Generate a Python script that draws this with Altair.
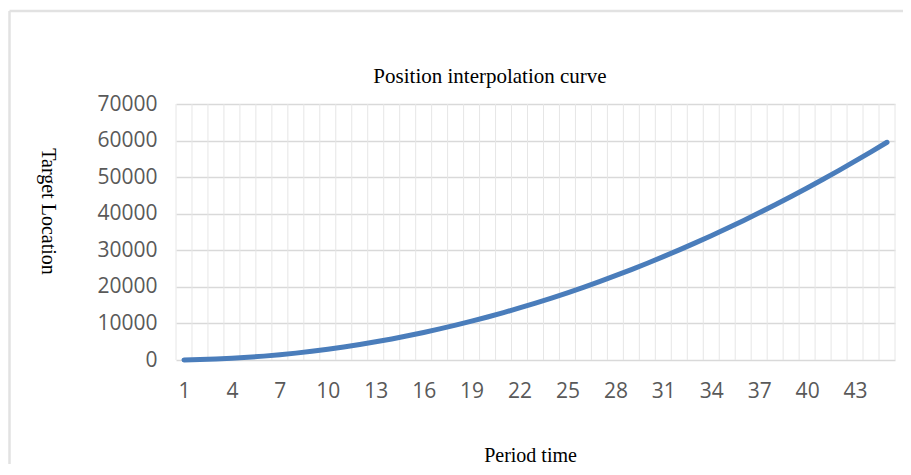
import altair as alt
import pandas as pd

# Period indices (categories) and target location values
periods = list(range(1, 46))
location = [30, 120, 265, 470, 735, 1060, 1440, 1880, 2380, 2940,
            3560, 4230, 4970, 5760, 6610, 7530, 8500, 9530, 10610, 11760,
            12970, 14230, 15550, 16930, 18380, 19870, 21430, 23050, 24730, 26460,
            28250, 30110, 32020, 33990, 36020, 38100, 40250, 42450, 44720, 47040,
            49420, 51860, 54360, 56920, 59540]
x_tick_labels = [1, 4, 7, 10, 13, 16, 19, 22, 25, 28, 31, 34, 37, 40, 43]
y_ticks = [0, 10000, 20000, 30000, 40000, 50000, 60000, 70000]
chart_title = "Position interpolation curve"

df = pd.DataFrame({"Period": periods, "Location": location})
edges = pd.DataFrame({"edge": [p - 0.5 for p in periods] + [periods[-1] + 0.5]})

W, H = 719, 256
xscale = alt.Scale(domain=[periods[0] - 0.5, periods[-1] + 0.5], nice=False, zero=False)
yscale = alt.Scale(domain=[0, 70000], nice=False)

label_font = "Open Sans"
serif = "Liberation Serif"

x_axis = alt.Axis(values=x_tick_labels, grid=False, domain=False, ticks=False,
                  labelFont=label_font, labelFontSize=21, labelColor="#595959",
                  labelPadding=20, labelFlush=False,
                  title="Period time", titleFont=serif, titleFontSize=20,
                  titleFontWeight="normal", titleColor="black",
                  titleX=354, titleY=101, titleAlign="center",
                  titleBaseline="alphabetic")
y_axis = alt.Axis(values=y_ticks, format="d", grid=True, gridColor="#d9d9d9",
                  gridWidth=1.5, domain=False, ticks=False,
                  labelFont=label_font, labelFontSize=21, labelColor="#595959",
                  labelPadding=19,
                  title="Target Location", titleFont=serif, titleFontSize=20,
                  titleFontWeight="normal", titleColor="black",
                  titleAngle=90, titleX=-129, titleY=107, titleAlign="center",
                  titleBaseline="middle")

# light chart-area border (top and left edges visible)
one = pd.DataFrame({"a": [0]})
border_top = alt.Chart(one).mark_rule(color="#e2e2e2", strokeWidth=2.5).encode(
    x=alt.value(-166.5), x2=alt.value(W + 20), y=alt.value(-93))
border_left = alt.Chart(one).mark_rule(color="#e2e2e2", strokeWidth=2.5).encode(
    x=alt.value(-166.5), y=alt.value(-93), y2=alt.value(H + 120))

title_text = alt.Chart(one).mark_text(
    font=serif, fontSize=21, color="black", align="center", baseline="alphabetic"
).encode(x=alt.value(314), y=alt.value(-21), text=alt.value(chart_title))

vgrid = alt.Chart(edges).mark_rule(color="#e6e6e6", strokeWidth=1).encode(
    x=alt.X("edge:Q", scale=xscale, axis=x_axis)
)

line = alt.Chart(df).mark_line(
    color="#4a7dbb", strokeWidth=5, strokeCap="round", strokeJoin="round",
    interpolate="monotone"
).encode(
    x=alt.X("Period:Q", scale=xscale, axis=x_axis),
    y=alt.Y("Location:Q", scale=yscale, axis=y_axis)
)

chart = alt.layer(border_top, border_left, title_text, vgrid, line).properties(
    width=W, height=H,
    autosize=alt.AutoSizeParams(type="none"),
    padding={"left": 168, "top": 96, "right": 8, "bottom": 104},
).configure_view(stroke=None)

chart.save("out.html", embed_options={"renderer": "svg", "actions": False})
